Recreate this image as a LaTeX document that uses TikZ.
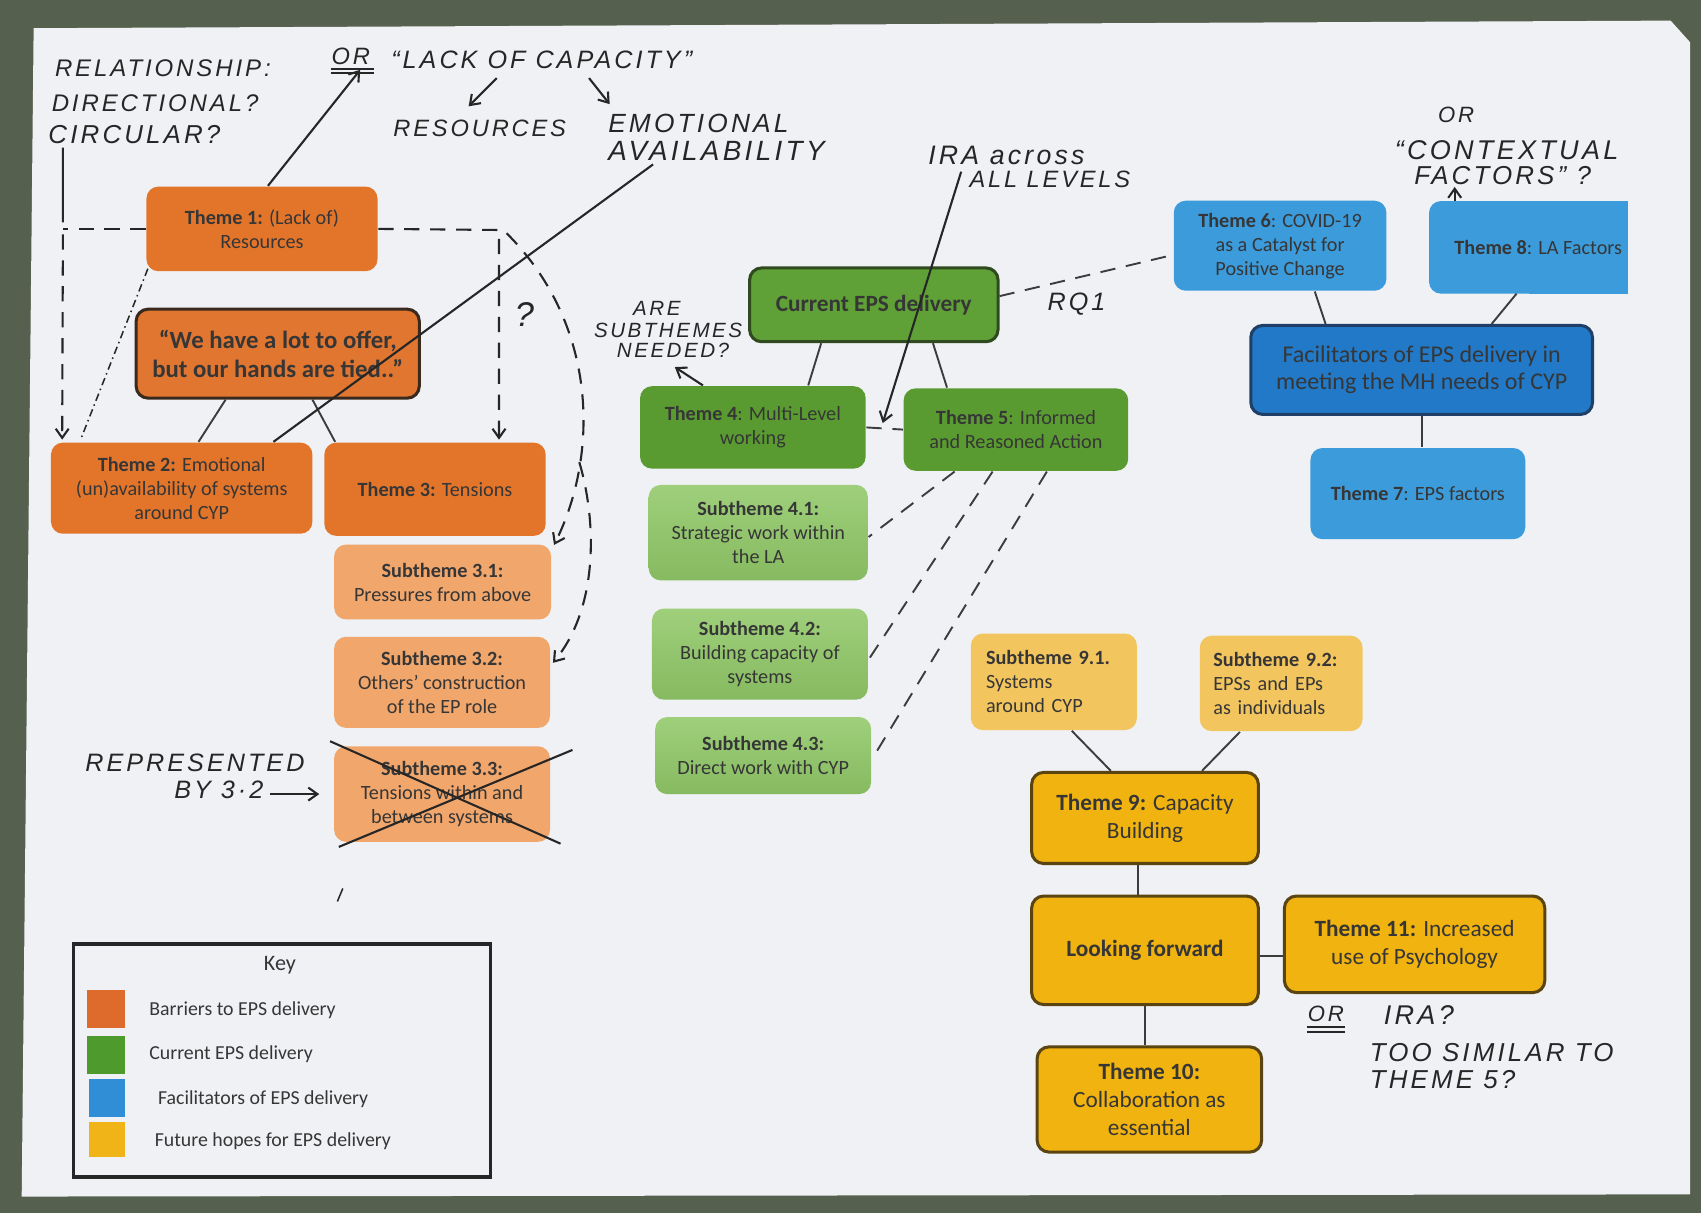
\documentclass[tikz,border=0pt]{standalone}
\usepackage{fontspec}
\setmainfont{Carlito}
\newfontfamily\handfont{Liberation Sans}[LetterSpace=12]
\usetikzlibrary{arrows.meta,backgrounds}

\definecolor{desk}{HTML}{56604F}
\definecolor{paper}{HTML}{EFF1F4}
\definecolor{txt}{HTML}{363636}
\definecolor{ink}{HTML}{262626}
\definecolor{linec}{HTML}{3C3C3C}
\definecolor{orT}{HTML}{E3752B}
\definecolor{orS}{HTML}{F1A66C}
\definecolor{orQ}{HTML}{E17630}
\definecolor{orE}{HTML}{3A2A1E}
\definecolor{grC}{HTML}{5FA136}
\definecolor{grT}{HTML}{5A9B31}
\definecolor{grE}{HTML}{2F4A1F}
\definecolor{grSa}{HTML}{9FCF7B}
\definecolor{grSb}{HTML}{86BA60}
\definecolor{blT}{HTML}{3C9BDB}
\definecolor{blF}{HTML}{2179C8}
\definecolor{blE}{HTML}{1F3F66}
\definecolor{yeT}{HTML}{F0B30F}
\definecolor{yeS}{HTML}{F2C55E}
\definecolor{yeE}{HTML}{5A4512}
\definecolor{keyO}{HTML}{DE6A2B}
\definecolor{keyG}{HTML}{4F9A2D}
\definecolor{keyB}{HTML}{2F8ED6}
\definecolor{keyY}{HTML}{F0B418}

% handwriting size
\newcommand\hw[1]{\handfont\itshape\fontsize{#1}{#1}\selectfont}
% box text sizes
\newcommand\fsmall{\fontsize{5.3}{6.3}\selectfont}
\newcommand\fmid{\fontsize{6.1}{7.4}\selectfont}

\tikzset{
  sz/.style 2 args={minimum width={#1*0.01cm}, minimum height={#2*0.01cm}},
  box/.style={rectangle, rounded corners=0.11cm, align=center, inner sep=1pt,
    text=txt, font=\fsmall},
  obox/.style={box, fill=orT},
  osub/.style={box, fill=orS},
  gbox/.style={box, fill=grT},
  gsub/.style={box, top color=grSa, bottom color=grSb},
  bbox/.style={box, fill=blT},
  ybox/.style={box, fill=yeT, draw=yeE, line width=0.8pt, font=\fmid},
  ysub/.style={box, fill=yeS, align=left},
  hand/.style={anchor=west, inner sep=0pt, text=ink},
  link/.style={draw=linec, line width=0.5pt},
  dlink/.style={link, dash pattern=on 4pt off 2.8pt},
  hline/.style={draw=ink, line width=0.55pt},
  htip/.style={-{Straight Barb[length=2.4pt,width=3.4pt]}},
}

\begin{document}
\begin{tikzpicture}[x=0.01cm,y=-0.01cm]
\useasboundingbox (0,0) rectangle (1568,1118);

% desk and sheet of paper
\begin{scope}[on background layer]
  \fill[desk] (0,0) rectangle (1568,1118);
  \fill[paper] (31,26) -- (1540,19) -- (1558,39) -- (1558,1101) -- (20,1103) -- cycle;
\end{scope}

% ---------- barriers (orange) ----------
\node[obox, sz={213}{78}] (t1) at (241.5,211) {\textbf{Theme 1:} (Lack of)\\Resources};
\node[box, fill=orQ, draw=orE, line width=0.8pt, sz={261}{82},
      font=\fontsize{6.5}{7.7}\selectfont\bfseries] (quote) at (256,326)
      {“We have a lot to offer,\\but our hands are tied..”};
\node[obox, sz={241}{84}] (t2) at (167.5,450) {\textbf{Theme 2:} Emotional\\(un)availability of systems\\around CYP};
\node[obox, sz={204}{86}] (t3) at (401,451) {\textbf{Theme 3:} Tensions};
\node[osub, sz={200}{69}] (s31) at (408,536.5) {\textbf{Subtheme 3.1:}\\Pressures from above};
\node[osub, sz={199}{84}] (s32) at (407.5,629) {\textbf{Subtheme 3.2:}\\Others’ construction\\of the EP role};
\node[osub, sz={199}{88}] (s33) at (407.5,732) {\textbf{Subtheme 3.3:}\\Tensions within and\\between systems};

\draw[link] ([xshift=-0.48cm]quote.south) -- ([xshift=0.155cm]t2.north);
\draw[link] ([xshift=0.32cm]quote.south) -- ([xshift=-0.92cm]t3.north);

% crossing out of subtheme 3.3
\draw[hline] ([xshift=-0.03cm,yshift=0.04cm]s33.north west) -- ([xshift=0.09cm,yshift=-0.01cm]s33.south east);
\draw[hline] ([xshift=0.2cm,yshift=-0.04cm]s33.north east) -- ([xshift=0.05cm,yshift=-0.04cm]s33.south west);

% ---------- current delivery (green) ----------
\node[box, fill=grC, draw=grE, line width=0.8pt, sz={229}{68},
      font=\fontsize{6.1}{7.4}\selectfont\bfseries] (cur) at (805.5,281) {Current EPS delivery};
\node[gbox, sz={208}{76}] (t4) at (694,394) {\textbf{Theme 4}: Multi-Level\\working};
\node[gbox, sz={207}{76}] (t5) at (936.5,396) {\textbf{Theme 5}: Informed\\and Reasoned Action};
\node[gsub, sz={202}{88}] (s41) at (699,491) {\textbf{Subtheme 4.1:}\\Strategic work within\\the LA};
\node[gsub, sz={199}{84}] (s42) at (700.5,603) {\textbf{Subtheme 4.2:}\\Building capacity of\\systems};
\node[gsub, sz={199}{71}] (s43) at (703.5,696.5) {\textbf{Subtheme 4.3:}\\Direct work with CYP};

\draw[link] ([xshift=-0.485cm]cur.south) -- ([xshift=0.51cm]t4.north);
\draw[link] ([xshift=0.545cm]cur.south) -- ([xshift=-0.635cm]t5.north);
\draw[dlink] (t4.east) -- (t5.west);
\draw[dlink] ([xshift=-0.565cm]t5.south) -- ([yshift=-0.04cm]s41.east);
\draw[dlink] ([xshift=-0.215cm]t5.south) -- ([yshift=-0.05cm]s42.east);
\draw[dlink] ([xshift=0.285cm]t5.south) -- ([yshift=-0.035cm]s43.east);

% ---------- facilitators (blue) ----------
\node[bbox, sz={196}{83}] (t6) at (1180,226.5) {\textbf{Theme 6}: COVID-19\\as a Catalyst for\\Positive Change};
\node[box, sz={182}{84}] (t8) at (1409,228) {\hspace*{0.18cm}\textbf{Theme 8}: LA Factors};
\begin{scope}[on background layer]
  \fill[blT, rounded corners=0.11cm] (t8.south west) rectangle (t8.north east);
  \fill[blT] (t8.south) rectangle (t8.north east);
\end{scope}
\node[box, fill=blF, draw=blE, line width=0.8pt, sz={315}{82},
      font=\fontsize{6.3}{7.1}\selectfont] (fac) at (1310.5,341)
      {Facilitators of EPS delivery in\\meeting the MH needs of CYP};
\node[bbox, sz={198}{84}] (t7) at (1307,455) {\textbf{Theme 7}: EPS factors};

\draw[link] ([xshift=0.32cm]t6.south) -- ([xshift=-0.885cm]fac.north);
\draw[link] ([xshift=-0.11cm]t8.south) -- ([xshift=0.645cm]fac.north);
\draw[link] (fac.south) -- (fac.south |- t7.north);
\draw[dlink] ([yshift=0.08cm]cur.east) -- ([yshift=-0.085cm]t6.west);

% ---------- future hopes (yellow) ----------
\node[ysub, sz={153}{89}, text width=1.25cm] (s91) at (971.5,628.5) {\textbf{Subtheme 9.1.}\\Systems\\around CYP};
\node[ysub, sz={150}{88}, text width=1.25cm] (s92) at (1181,630) {\textbf{Subtheme 9.2:}\\EPSs and EPs\\as individuals};
\node[ybox, sz={209}{84}] (t9) at (1055.5,754) {\textbf{Theme 9:} Capacity\\Building};
\node[ybox, sz={209}{100}, font=\fmid\bfseries] (lf) at (1055.5,876) {Looking forward};
\node[ybox, sz={240}{89}] (t11) at (1304,870.5) {\textbf{Theme 11:} Increased\\use of Psychology};
\node[ybox, sz={207}{97}] (t10) at (1059.5,1013.5) {\textbf{Theme 10:}\\Collaboration as\\essential};

\draw[link] ([xshift=0.165cm]s91.south) -- ([xshift=-0.315cm]t9.north);
\draw[link] ([xshift=-0.38cm]s92.south) -- ([xshift=0.525cm]t9.north);
\draw[link] ([xshift=-0.065cm]t9.south) -- ([xshift=-0.065cm]lf.north);
\draw[link] ([yshift=-0.05cm]lf.east) -- ([yshift=-0.05cm]lf.east -| t11.west);
\draw[link] (lf.south) -- (lf.south |- t10.north);

% ---------- key ----------
\node[draw=ink, line width=0.9pt, sz={384}{215}] (key) at (260,977.5) {};
\node[inner sep=0pt, text=txt, font=\fontsize{5.8}{6}\selectfont] (keyt) at (258,890) {Key};
\node[fill=keyO, sz={35}{35}, inner sep=0pt] (k1) at (97.5,930.5) {};
\node[fill=keyG, sz={35}{35}, inner sep=0pt] (k2) at (97.5,972.5) {};
\node[fill=keyB, sz={33}{35}, inner sep=0pt] (k3) at (98.5,1012.5) {};
\node[fill=keyY, sz={33}{32}, inner sep=0pt] (k4) at (98.5,1050.5) {};
\node[hand, text=txt, font=\fontsize{5.2}{6}\selectfont] (kl1) at (137,931) {Barriers to EPS delivery};
\node[hand, text=txt, font=\fontsize{5.2}{6}\selectfont] (kl2) at (137,972) {Current EPS delivery};
\node[hand, text=txt, font=\fontsize{5.2}{6}\selectfont] (kl3) at (145,1013) {Facilitators of EPS delivery};
\node[hand, text=txt, font=\fontsize{5.2}{6}\selectfont] (kl4) at (142,1052) {Future hopes for EPS delivery};

% ---------- handwritten notes ----------
\node[hand, font=\hw{6.3}] (rel) at (50,63) {RELATIONSHIP:};
\node[hand, font=\hw{6.3}] (dir) at (47,95) {DIRECTIONAL?};
\node[hand, font=\hw{6.8}] (circ) at (44,124) {CIRCULAR?};
\node[hand, font=\hw{6.2}] (or1) at (305,52) {OR};
\draw[hline] ([yshift=-0.03cm]or1.south west) -- ([xshift=0.03cm,yshift=-0.03cm]or1.south east);
\draw[hline] ([yshift=-0.07cm]or1.south west) -- ([xshift=0.03cm,yshift=-0.07cm]or1.south east);
\node[hand, font=\hw{6.6}] (lack) at (360,55) {“LACK OF CAPACITY”};
\node[hand, font=\hw{6.2}] (res) at (362,118) {RESOURCES};
\node[hand, font=\hw{6.9}] (emo) at (560,114) {EMOTIONAL};
\node[hand, font=\hw{7.3}] (avail) at (560,139) {AVAILABILITY};
\coordinate (la1) at (458,72);
\coordinate (la2) at (432,98);
\coordinate (lb1) at (543,72);
\coordinate (lb2) at (562,96);
\draw[hline, htip] (la1) -- (la2);
\draw[hline, htip] (lb1) -- (lb2);

\node[hand, font=\hw{7}] (ira1) at (855,143) {IRA across};
\node[hand, font=\hw{6.2}] (ira2) at (893,165) {ALL LEVELS};
\node[hand, font=\hw{5.4}] (are) at (583,284) {ARE};
\node[hand, font=\hw{5.4}] (subq) at (547,305) {SUBTHEMES};
\node[hand, font=\hw{5.4}] (need) at (568,323) {NEEDED?};
\node[hand, font=\hw{6.6}] (rq) at (965,280) {RQ1};
\node[hand, font=\hw{5.8}] (or2) at (1325,106) {OR};
\node[hand, font=\hw{7.1}] (ctx1) at (1285,138) {“CONTEXTUAL};
\node[hand, font=\hw{6.8}] (ctx2) at (1303,162) {FACTORS” ?};
\node[hand, font=\hw{9}] (qm) at (474,290) {?};
\node[hand, font=\hw{6.6}] (rep1) at (78,703) {REPRESENTED};
\node[hand, font=\hw{6.6}] (rep2) at (160,728) {BY 3·2};
\node[hand, font=\hw{5.8}] (or3) at (1205,935) {OR};
\draw[hline] ([yshift=-0.04cm]or3.south west) -- ([yshift=-0.04cm]or3.south east);
\draw[hline] ([yshift=-0.08cm]or3.south west) -- ([yshift=-0.08cm]or3.south east);
\node[hand, font=\hw{7.1}] (ira3) at (1275,936) {IRA?};
\node[hand, font=\hw{6.8}] (sim1) at (1262,970) {TOO SIMILAR TO};
\node[hand, font=\hw{6.8}] (sim2) at (1262,995) {THEME 5?};

% ---------- hand-drawn connectors ----------
% theme 1 up to the alternative name
\draw[hline, htip] ([xshift=0.055cm]t1.north) -- ([xshift=0.27cm,yshift=-0.04cm]or1.south west);
% emotional availability down to theme 2
\draw[hline] ([xshift=0.42cm,yshift=-0.03cm]avail.south west) -- ([xshift=0.845cm]t2.north);
% left loop: solid then dashed into theme 2
\coordinate (lc) at (58,211);
\draw[hline] ([xshift=0.14cm,yshift=-0.03cm]circ.south west) -- ([yshift=0.06cm]lc);
\draw[hline, dash pattern=on 4pt off 2.8pt] (t1.west) -- (lc);
\draw[hline, htip, dash pattern=on 4pt off 2.8pt] ([yshift=-0.05cm]lc) -- ([xshift=0.11cm,yshift=0.02cm]t2.north west);
% dash-dot link from theme 1 to theme 2
\draw[draw=ink, line width=0.4pt, dash pattern=on 2pt off 1pt on 0.4pt off 1pt]
  ([xshift=0.02cm,yshift=0.03cm]t1.south west) -- ([xshift=0.28cm,yshift=0.02cm]t2.north west);
% right loop: theme 1 to theme 3
\coordinate (rc) at (460,212);
\draw[hline, htip, dash pattern=on 4pt off 2.8pt] (t1.east) -- (rc) -- ([yshift=0.02cm]rc |- t3.north);
% arcs down to subthemes 3.1 and 3.2
\coordinate (ra) at (467,215);
\coordinate (bsplit) at (534,426);
\draw[hline, htip, dash pattern=on 4pt off 2.8pt]
  (ra) .. controls (552,300) and (552,420) .. ([xshift=0.02cm,yshift=-0.01cm]s31.north east);
\draw[hline, htip, dash pattern=on 4pt off 2.8pt]
  (bsplit) .. controls (550,480) and (552,560) .. ([xshift=0.02cm,yshift=0.18cm]s32.east);
% pointer to the crossed-out subtheme
\draw[hline, htip] ([xshift=-0.58cm]s33.west) -- ([xshift=-0.13cm]s33.west);
% IRA across all levels
\draw[hline, htip] ([xshift=0.31cm,yshift=-0.06cm]ira1.south west) -- ([xshift=0.15cm,yshift=0.04cm]t4.east);
% are subthemes needed?
\draw[hline, htip] ([xshift=-0.46cm]t4.north) -- ([xshift=0.54cm,yshift=-0.08cm]need.south west);
% contextual factors
\draw[hline, htip] ([xshift=-0.68cm]t8.north) -- ([xshift=-0.68cm,yshift=0.13cm]t8.north);
% stray pen mark
\coordinate (pm1) at (316,819);
\coordinate (pm2) at (311,831);
\draw[draw=ink, line width=0.4pt] (pm1) -- (pm2);
\end{tikzpicture}
\end{document}
